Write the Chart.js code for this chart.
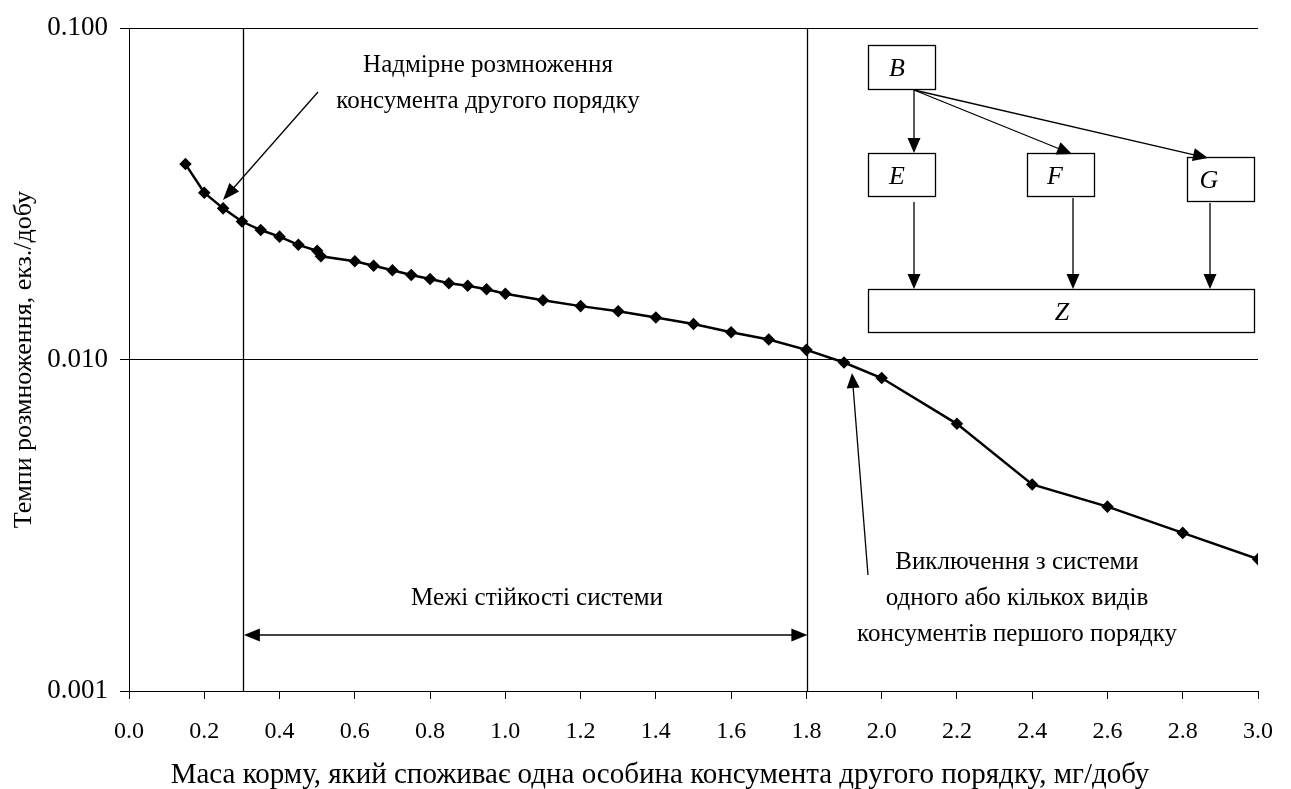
<!DOCTYPE html>
<html>
<head>
<meta charset="utf-8">
<script src="https://cdn.jsdelivr.net/npm/chart.js@4.4.1/dist/chart.umd.min.js"></script>
<style>
html,body{margin:0;padding:0;background:#fff;}
#wrap{width:1291px;height:789px;position:relative;}
</style>
</head>
<body>
<div id="wrap"><canvas id="c"></canvas></div>
<script>
// ---- data ----
const foodMass = [0.15,0.2,0.25,0.3,0.35,0.4,0.45,0.5,0.51,0.6,0.65,0.7,0.75,0.8,0.85,0.9,0.95,1.0,1.1,1.2,1.3,1.4,1.5,1.6,1.7,1.8,1.9,2.0,2.2,2.4,2.6,2.8,3.0];
const reproRate = [0.0389,0.0319,0.0286,0.0261,0.0246,0.0235,0.0222,0.0213,0.0205,0.0198,0.0192,0.0186,0.0180,0.0175,0.0170,0.0167,0.0163,0.0158,0.0151,0.0145,0.0140,0.0134,0.0128,0.0121,0.0115,0.0107,0.0098,0.0088,0.0064,0.0042,0.0036,0.0030,0.0025];
const yTicks = [0.001, 0.01, 0.1];
const stabilityBounds = [0.3, 1.8];
const xTitle = 'Маса корму, який споживає одна особина консумента другого порядку, мг/добу';
const yTitle = 'Темпи розмноження, екз./добу';
const noteTop = ['Надмірне розмноження', 'консумента другого порядку'];
const noteMid = 'Межі стійкості системи';
const noteRight = ['Виключення з системи', 'одного або кількох видів', 'консументів першого порядку'];
const boxLabels = ['B', 'E', 'F', 'G', 'Z'];

const points = foodMass.map((x, i) => ({x, y: reproRate[i]}));
const SERIF = '"Liberation Serif", "Times New Roman", serif';

function arrowHead(ctx, x1, y1, x2, y2, len, half) {
  const a = Math.atan2(y2 - y1, x2 - x1);
  ctx.beginPath();
  ctx.moveTo(x2, y2);
  ctx.lineTo(x2 - len * Math.cos(a) + half * Math.sin(a), y2 - len * Math.sin(a) - half * Math.cos(a));
  ctx.lineTo(x2 - len * Math.cos(a) - half * Math.sin(a), y2 - len * Math.sin(a) + half * Math.cos(a));
  ctx.closePath();
  ctx.fill();
}
function arrow(ctx, x1, y1, x2, y2, len, half) {
  const a = Math.atan2(y2 - y1, x2 - x1);
  ctx.beginPath();
  ctx.moveTo(x1, y1);
  ctx.lineTo(x2 - len * 0.8 * Math.cos(a), y2 - len * 0.8 * Math.sin(a));
  ctx.stroke();
  arrowHead(ctx, x1, y1, x2, y2, len, half);
}

const annot = {
  id: 'annot',
  beforeDatasetsDraw(chart) {
    const {ctx, chartArea, scales} = chart;
    ctx.save();
    ctx.strokeStyle = '#000';
    ctx.lineWidth = 1.3;
    stabilityBounds.forEach(v => {
      const px = Math.round(scales.x.getPixelForValue(v)) + 1.5;
      ctx.beginPath();
      ctx.moveTo(px, chartArea.top);
      ctx.lineTo(px, chartArea.bottom);
      ctx.stroke();
    });
    ctx.restore();
  },
  afterDraw(chart) {
    const {ctx, scales} = chart;
    ctx.save();
    ctx.fillStyle = '#000';
    ctx.strokeStyle = '#000';
    ctx.lineWidth = 1.3;
    // x-axis title
    ctx.font = '29px ' + SERIF;
    ctx.textAlign = 'center';
    ctx.textBaseline = 'alphabetic';
    ctx.fillText(xTitle, 660, 783);
    // texts
    ctx.font = '25px ' + SERIF;
    ctx.fillText(noteTop[0], 488, 72);
    ctx.fillText(noteTop[1], 488, 108);
    ctx.fillText(noteMid, 537, 605);
    noteRight.forEach((t, i) => ctx.fillText(t, 1017, 569 + i * 36));
    // arrows
    arrow(ctx, 318, 92, 223, 200, 17, 6.5);
    arrow(ctx, 868, 575, 852, 373, 15, 6.5);
    const xl = scales.x.getPixelForValue(stabilityBounds[0]) + 2;
    const xr = scales.x.getPixelForValue(stabilityBounds[1]) + 1;
    ctx.beginPath();
    ctx.moveTo(xl + 10, 635); ctx.lineTo(xr - 10, 635); ctx.stroke();
    arrowHead(ctx, xr, 635, xl, 635, 16, 6.5);
    arrowHead(ctx, xl, 635, xr, 635, 16, 6.5);
    // diagram boxes
    const boxes = [
      [868.5, 45.5, 67, 44],
      [868.5, 153.5, 67, 43],
      [1027.5, 153.5, 67, 43],
      [1187.5, 157.5, 67, 44],
      [868.5, 289.5, 386, 43]
    ];
    ctx.fillStyle = '#fff';
    boxes.forEach(b => { ctx.fillRect(b[0], b[1], b[2], b[3]); ctx.strokeRect(b[0], b[1], b[2], b[3]); });
    ctx.fillStyle = '#000';
    ctx.font = 'italic 26px ' + SERIF;
    ctx.textBaseline = 'middle';
    const cent = [[897, 68], [897, 176], [1055, 176], [1209, 180], [1062, 312]];
    boxLabels.forEach((l, i) => ctx.fillText(l, cent[i][0], cent[i][1] + 1));
    // diagram arrows
    arrow(ctx, 914, 90, 914, 153, 15, 6.5);
    arrow(ctx, 914, 90, 1072, 154, 15, 6.5);
    arrow(ctx, 914, 90, 1208, 158, 15, 6.5);
    arrow(ctx, 914, 202, 914, 289, 15, 6.5);
    arrow(ctx, 1073, 198, 1073, 289, 15, 6.5);
    arrow(ctx, 1210, 203, 1210, 289, 15, 6.5);
    ctx.restore();
  }
};

new Chart(document.getElementById('c'), {
  type: 'line',
  data: {
    datasets: [{
      data: points,
      borderColor: '#000',
      backgroundColor: '#000',
      borderWidth: 2.5,
      pointStyle: 'rectRot',
      pointRadius: 4.5,
      pointHoverRadius: 4.5,
      tension: 0
    }]
  },
  options: {
    responsive: true,
    maintainAspectRatio: false,
    animation: false,
    layout: {padding: {left: 0, right: 21, top: 24, bottom: 0}},
    plugins: {legend: {display: false}, tooltip: {enabled: false}},
    scales: {
      x: {
        type: 'linear', min: 0, max: 3,
        ticks: {stepSize: 0.2, color: '#000', padding: 18, maxRotation: 0,
          font: {family: SERIF, size: 24},
          callback: v => Number(v).toFixed(1)},
        grid: {drawOnChartArea: false, drawTicks: true, tickLength: 8, color: '#000', lineWidth: 1},
        border: {display: true, color: '#000', width: 1},
        title: {display: false, text: xTitle},
        afterFit: s => { s.height = 98; }
      },
      y: {
        type: 'logarithmic', min: 0.001, max: 0.1,
        afterBuildTicks: s => { s.ticks = yTicks.map(v => ({value: v})); },
        ticks: {color: '#000', padding: 12, font: {family: SERIF, size: 27},
          callback: v => Number(v).toFixed(3)},
        grid: {drawOnChartArea: true, drawTicks: true, tickLength: 9, color: '#000', lineWidth: 1},
        border: {display: true, color: '#000', width: 1},
        title: {display: true, text: yTitle, color: '#000', font: {family: SERIF, size: 26}, padding: {top: 9, bottom: 0}},
        afterFit: s => { s.width = 129; }
      }
    }
  },
  plugins: [annot, {
    id: 'bg',
    beforeDraw(c) { const x = c.ctx; x.save(); x.fillStyle = '#fff'; x.fillRect(0, 0, c.width, c.height); x.restore(); }
  }]
});
</script>
</body>
</html>
